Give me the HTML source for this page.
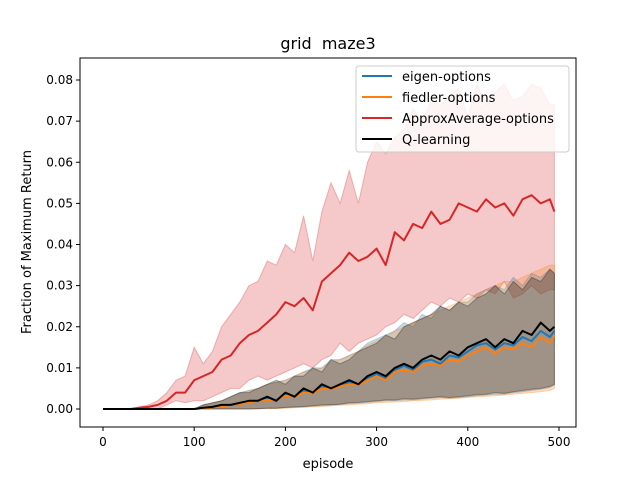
<!DOCTYPE html>
<html><head><meta charset="utf-8"><style>
body{margin:0;background:#fff}
svg text{font-family:"DejaVu Sans","Liberation Sans",sans-serif;fill:#000}
</style></head><body>
<svg id="chart" width="640" height="480" xmlns="http://www.w3.org/2000/svg">
<rect width="640" height="480" fill="#fff"/>
<text x="328" y="49" font-size="16" text-anchor="middle">grid&#160; maze3</text>
<g id="plot"></g>
<rect x="80" y="58" width="496" height="369" fill="none" stroke="#000" stroke-width="1"/>
<g id="axes"></g>
<text x="328" y="468" font-size="13" text-anchor="middle">episode</text>
<text x="31" y="242" font-size="13" text-anchor="middle" transform="rotate(-90 31 242)">Fraction of Maximum Return</text>
<g>
<rect x="356" y="66" width="213" height="86" rx="3" fill="#fff" fill-opacity="0.8" stroke="#ccc"/>
<line x1="362" y1="76" x2="392" y2="76" stroke="#1f77b4" stroke-width="2"/><text x="402" y="81" font-size="13">eigen-options</text>
<line x1="362" y1="97" x2="392" y2="97" stroke="#ff7f0e" stroke-width="2"/><text x="402" y="102" font-size="13">fiedler-options</text>
<line x1="362" y1="118" x2="392" y2="118" stroke="#d62728" stroke-width="2"/><text x="402" y="123" font-size="13">ApproxAverage-options</text>
<line x1="362" y1="139" x2="392" y2="139" stroke="#000" stroke-width="2"/><text x="402" y="144" font-size="13">Q-learning</text>
</g>
</svg>
<script>
const episodes=[0,10,20,30,40,50,60,70,80,90,100,110,120,130,140,150,160,170,180,190,200,210,220,230,240,250,260,270,280,290,300,310,320,330,340,350,360,370,380,390,400,410,420,430,440,450,460,470,480,490,495];
const xTicks=[0,100,200,300,400,500];
const yTicks=[0,0.01,0.02,0.03,0.04,0.05,0.06,0.07,0.08];
const yTickLabels=["0.00","0.01","0.02","0.03","0.04","0.05","0.06","0.07","0.08"];
const redMean=[0,0,0,0,0.0003,0.0005,0.001,0.002,0.004,0.004,0.007,0.008,0.009,0.012,0.013,0.016,0.018,0.019,0.021,0.023,0.026,0.025,0.027,0.024,0.031,0.033,0.035,0.038,0.036,0.037,0.039,0.035,0.043,0.041,0.045,0.044,0.048,0.045,0.046,0.050,0.049,0.048,0.051,0.049,0.050,0.047,0.051,0.052,0.050,0.051,0.048];
const redUpper=[0,0,0,0,0.0005,0.001,0.002,0.004,0.007,0.008,0.015,0.011,0.014,0.020,0.023,0.026,0.030,0.031,0.036,0.035,0.040,0.038,0.047,0.036,0.048,0.055,0.050,0.058,0.050,0.060,0.065,0.062,0.066,0.068,0.073,0.070,0.075,0.074,0.076,0.078,0.071,0.079,0.074,0.077,0.079,0.075,0.076,0.079,0.078,0.074,0.074];
const redLower=[0,0,0,0,0,0,0,0.001,0.002,0.0015,0.002,0.002,0.003,0.004,0.005,0.005,0.007,0.008,0.007,0.008,0.009,0.010,0.011,0.010,0.012,0.013,0.016,0.014,0.016,0.017,0.018,0.020,0.021,0.023,0.022,0.024,0.026,0.025,0.027,0.026,0.028,0.027,0.029,0.028,0.031,0.027,0.028,0.030,0.028,0.029,0.029];
const qMean=[0,0,0,0,0,0,0,0,0,0,0,0.0003,0.0005,0.001,0.001,0.0015,0.002,0.002,0.003,0.002,0.004,0.003,0.005,0.004,0.006,0.005,0.006,0.007,0.006,0.008,0.009,0.008,0.010,0.011,0.010,0.012,0.013,0.012,0.014,0.013,0.015,0.016,0.017,0.015,0.017,0.016,0.019,0.018,0.021,0.019,0.020];
const qUpper=[0,0,0,0,0,0,0,0,0,0,0,0.001,0.0015,0.002,0.003,0.004,0.004,0.005,0.006,0.007,0.006,0.008,0.008,0.010,0.009,0.012,0.011,0.012,0.014,0.015,0.016,0.018,0.017,0.020,0.021,0.022,0.023,0.025,0.024,0.026,0.025,0.027,0.028,0.030,0.028,0.031,0.029,0.032,0.031,0.034,0.033];
const qLower=[0,0,0,0,0,0,0,0,0,0,0,0,0,0,0,0,0,0.0001,0.0002,0.0002,0.0004,0.0005,0.0006,0.0008,0.001,0.001,0.0012,0.0015,0.0016,0.0018,0.002,0.0022,0.0022,0.0025,0.0024,0.0026,0.0028,0.003,0.0028,0.003,0.0032,0.0035,0.0036,0.004,0.0038,0.0042,0.0045,0.0048,0.005,0.0055,0.006];
const eigenMean=[0,0,0,0,0,0,0,0,0,0,0,0.0002,0.0004,0.0008,0.001,0.0012,0.0018,0.002,0.0025,0.0022,0.0035,0.003,0.0045,0.004,0.0055,0.005,0.0058,0.0065,0.006,0.0075,0.0085,0.0075,0.0095,0.0105,0.0095,0.0115,0.012,0.011,0.013,0.0125,0.014,0.0155,0.016,0.0145,0.016,0.0155,0.0175,0.0165,0.019,0.0175,0.019];
const eigenUpper=[0,0,0,0,0,0,0,0,0,0,0,0.001,0.0015,0.002,0.003,0.004,0.0045,0.005,0.006,0.0065,0.007,0.008,0.009,0.010,0.010,0.012,0.012,0.013,0.014,0.016,0.017,0.018,0.019,0.021,0.020,0.023,0.022,0.025,0.024,0.026,0.026,0.028,0.029,0.030,0.029,0.032,0.030,0.033,0.032,0.034,0.033];
const eigenLower=[0,0,0,0,0,0,0,0,0,0,0,0,0,0,0,0,0,0.0001,0.0002,0.0002,0.0003,0.0004,0.0005,0.0007,0.0008,0.001,0.0011,0.0013,0.0014,0.0016,0.0018,0.002,0.002,0.0022,0.0022,0.0024,0.0026,0.0028,0.0026,0.0028,0.003,0.0032,0.0034,0.0036,0.0036,0.004,0.0042,0.0045,0.0048,0.0052,0.0058];
const fiedlerMean=[0,0,0,0,0,0,0,0,0,0,0,0.0002,0.0004,0.0007,0.001,0.0012,0.0016,0.002,0.0022,0.0022,0.0032,0.003,0.004,0.0038,0.005,0.0048,0.0055,0.006,0.0058,0.007,0.008,0.007,0.009,0.0095,0.009,0.0105,0.011,0.0105,0.012,0.0115,0.013,0.014,0.015,0.0135,0.015,0.0145,0.016,0.015,0.0175,0.016,0.018];
const fiedlerUpper=[0,0,0,0,0,0,0,0,0,0,0,0.001,0.0015,0.002,0.003,0.0038,0.0045,0.005,0.006,0.0065,0.007,0.008,0.009,0.0095,0.010,0.0115,0.012,0.013,0.014,0.0155,0.0165,0.0175,0.019,0.020,0.021,0.022,0.023,0.024,0.025,0.026,0.027,0.028,0.029,0.030,0.031,0.031,0.032,0.033,0.034,0.035,0.035];
const fiedlerLower=[0,0,0,0,0,0,0,0,0,0,0,0,0,0,0,0,0,0,0.0001,0.0001,0.0002,0.0003,0.0004,0.0005,0.0006,0.0008,0.0009,0.001,0.0012,0.0013,0.0015,0.0016,0.0017,0.0018,0.002,0.0021,0.0022,0.0024,0.0025,0.0026,0.0028,0.003,0.0031,0.0032,0.0034,0.0036,0.0038,0.004,0.0042,0.0045,0.005];

const NS="http://www.w3.org/2000/svg";
const X=v=>103+v*(559-103)/500;
const Y=v=>409-v*(409-80)/0.08;
const plot=document.getElementById('plot');
const axes=document.getElementById('axes');
function mk(tag,attrs,parent){const e=document.createElementNS(NS,tag);for(const k in attrs)e.setAttribute(k,attrs[k]);parent.appendChild(e);return e;}
function band(up,lo,color,name){
  let d='';const n=Math.min(episodes.length,up.length,lo.length);
  for(let i=0;i<n;i++)d+=(i?'L':'M')+X(episodes[i]).toFixed(1)+','+Y(up[i]).toFixed(1);
  for(let i=n-1;i>=0;i--)d+='L'+X(episodes[i]).toFixed(1)+','+Y(lo[i]).toFixed(1);
  const p=mk('path',{d:d+'Z',fill:color,'fill-opacity':0.25,stroke:color,'stroke-opacity':0.3},plot);
  
  
}
function line(vals,color,name){
  const n=Math.min(episodes.length,vals.length);
  const pts=[];for(let i=0;i<n;i++)pts.push(X(episodes[i]).toFixed(1)+','+Y(vals[i]).toFixed(1));
  const p=mk('polyline',{points:pts.join(' '),fill:'none',stroke:color,'stroke-width':2,'stroke-linejoin':'round'},plot);
  
  
}
band(redUpper,redLower,'#d62728','approx-band');
band(eigenUpper,eigenLower,'#1f77b4','eigen-band');
band(fiedlerUpper,fiedlerLower,'#ff7f0e','fiedler-band');
band(qUpper,qLower,'#000000','qlearning-band');
line(eigenMean,'#1f77b4','eigen-line');
line(fiedlerMean,'#ff7f0e','fiedler-line');
line(redMean,'#d62728','approx-line');
line(qMean,'#000000','qlearning-line');
xTicks.forEach(t=>{
  mk('line',{x1:X(t),x2:X(t),y1:427,y2:431,stroke:'#000'},axes);
  const tx=mk('text',{x:X(t),y:446,'font-size':12,'text-anchor':'middle'},axes);tx.textContent=t;
  
  
});
yTicks.forEach((t,i)=>{
  mk('line',{x1:76,x2:80,y1:Y(t),y2:Y(t),stroke:'#000'},axes);
  const tx=mk('text',{x:73,y:Y(t)+4,'font-size':12,'text-anchor':'end'},axes);tx.textContent=yTickLabels[i];
  
  
});
</script>
</body></html>
